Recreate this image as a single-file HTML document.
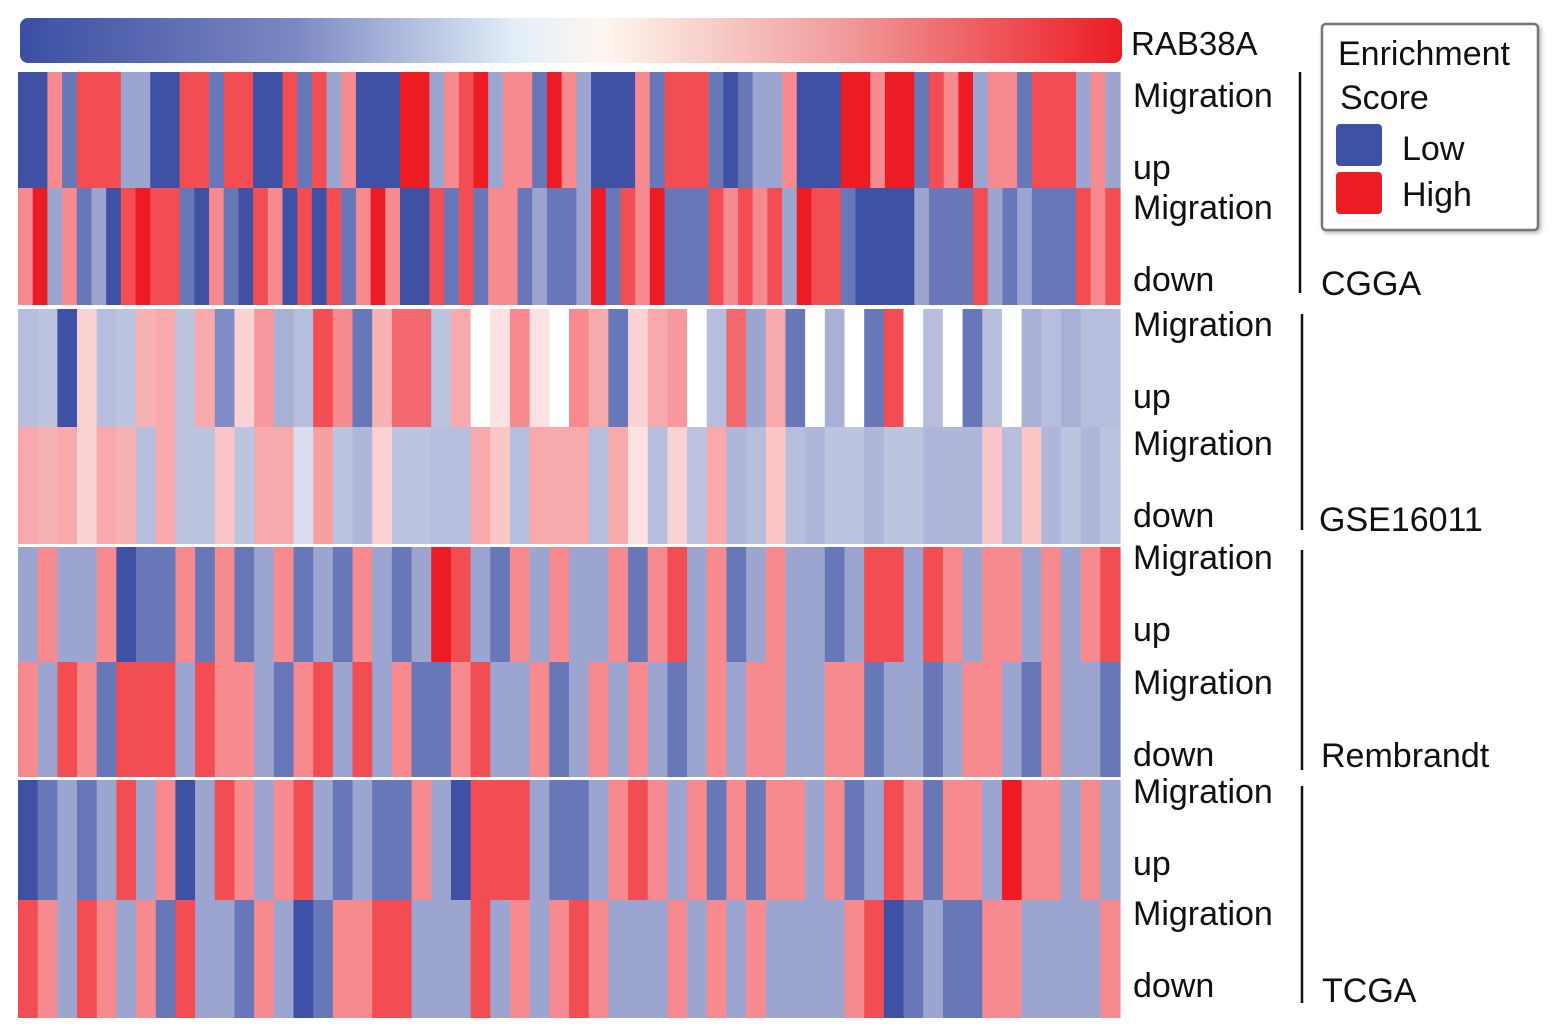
<!DOCTYPE html>
<html><head><meta charset="utf-8">
<style>
body{margin:0;background:#fff;width:1559px;height:1036px;overflow:hidden;font-family:"Liberation Sans",Arial,sans-serif;}
svg{position:absolute;left:0;top:0}
text{font-family:"Liberation Sans",Arial,sans-serif;fill:#111}
</style></head>
<body>
<svg id="chart" width="1559" height="1036">
<defs>
<linearGradient id="rab" x1="0" x2="1" y1="0" y2="0">
<stop offset="0" stop-color="#3a4ea3"/><stop offset="0.25" stop-color="#7c88c2"/>
<stop offset="0.45" stop-color="#e2eef7"/><stop offset="0.53" stop-color="#fdf6ee"/>
<stop offset="0.75" stop-color="#f09a9a"/><stop offset="1" stop-color="#ec1c24"/>
</linearGradient>
<filter id="sh"><feDropShadow dx="2" dy="2" stdDeviation="2" flood-color="#888" flood-opacity="0.6"/></filter>
</defs>
<rect x="20" y="18" width="1102" height="45" rx="8" fill="url(#rab)"/>
<g id="cells"></g>
<text x="1131" y="55" font-size="33">RAB38A</text>
<g id="labels"></g>
<g filter="url(#sh)">
<rect x="1322" y="24" width="216" height="206" rx="4" fill="#fff" stroke="#777" stroke-width="2.5"/>
</g>
<text x="1338" y="65" font-size="34">Enrichment</text>
<text x="1340" y="109" font-size="34">Score</text>
<rect x="1336" y="124" width="46" height="42" rx="4" fill="#3f51a5"/>
<text x="1402" y="160" font-size="34">Low</text>
<rect x="1336" y="172" width="46" height="42" rx="4" fill="#ec1c24"/>
<text x="1402" y="206" font-size="34">High</text>
</svg>
<script>
const datasets = ["CGGA","GSE16011","Rembrandt","TCGA"];
const cggaUp = [-3,-3,1,-2,2,2,2,-1,-1,-3,-3,2,2,-2,2,2,-3,-3,2,-2,2,-1,1,-3,-3,-3,3,3,-1,1,2,3,-1,1,1,-2,3,1,
 -1,-3,-3,-3,1,-2,2,2,2,-2,-3,-2,-1,-1,1,-3,-3,-3,3,3,1,3,3,-2,2,1,3,-1,1,1,-2,2,2,2,-1,1,-1];
const cggaDown = [1,3,-1,1,-2,-1,-3,2,3,2,2,-2,-3,1,-2,-3,2,1,-3,2,-3,2,-2,1,3,1,-3,-3,2,-2,2,-2,1,1,-2,-1,-2,-2,
 -1,3,-2,2,1,3,-2,-2,-2,2,1,2,1,2,-1,3,2,2,-2,-3,-3,-3,-3,-1,-2,-2,-2,2,-1,-2,-1,-2,-2,-2,2,1,2];
const gseUp = [-0.6,-0.5,-3,0.2,-0.6,-0.5,0.5,0.6,-0.5,0.6,-1.5,0.2,0.8,-0.8,-0.6,2,1,-2,0.5,1.5,1.5,-0.5,0.6,0,0.1,1,0.1,0,
 1,0.6,-2,0.2,0.6,0.8,0,-0.6,1.5,-1,0.6,-2,0,-0.8,0,-2,2,0,-0.6,0,-2,-0.6,0,-0.8,-0.6,-0.8,-0.6,-0.6];
const gseDown = [0.6,0.5,0.6,0.2,0.6,0.5,-0.6,0.6,-0.5,-0.5,0.3,-0.5,0.6,0.6,-0.2,0.7,-0.5,-0.7,0.2,-0.5,-0.5,-0.6,-0.6,0.6,0.3,-0.6,0.6,0.6,
 0.6,-0.6,0.6,0.1,-0.6,0.2,-0.5,0.6,-0.7,-0.6,0.3,-0.6,-0.7,-0.5,-0.5,-0.7,-0.5,-0.5,-0.7,-0.7,-0.7,0.3,-0.6,0.3,-0.7,-0.5,-0.7,-0.5];
const remUp = [-1,1,-1,-1,1,-3,-2,-2,1,-2,1,-2,-1,1,-2,-1,-2,1,-1,-2,-1,3,2,-1,-2,1,-1,1,
 -1,-1,1,-2,1,2,-1,1,-2,-1,1,-1,-1,-2,-1,2,2,-1,2,1,-1,1,1,-1,1,-1,1,2];
const remDown = [1,-1,2,1,-2,2,2,2,-1,2,1,1,-1,-2,1,2,-1,2,-1,1,-2,-2,1,2,-1,-1,1,-2,
 -1,1,-1,1,-1,-2,-1,1,-1,1,1,-1,-1,1,1,-2,-1,-1,-2,-1,1,1,-1,-2,1,-1,-1,-2];
const tcgaUp = [-3,-2,-1,-2,-1,2,-1,1,-3,-1,2,1,-1,1,2,-1,-2,-1,-2,-2,1,-1,-3,2,2,2,-1,-2,
 -2,-1,1,2,1,-1,1,-2,1,-2,1,1,-1,1,-2,-1,2,1,-2,1,1,-1,3,1,1,-1,1,-1];
const tcgaDown = [2,1,-1,2,1,-1,1,-2,2,-1,-1,-2,1,-1,-3,-2,1,1,2,2,-1,-1,-1,2,-1,1,-1,1,
 2,1,-1,-1,-1,1,-1,1,-1,1,-1,-1,-1,-1,1,2,-3,-2,-1,-2,-2,1,1,-1,-1,-1,-1,1];
const rowLabels = ["Migration","up","Migration","down"];

const rows = [
 {data:cggaUp, y0:72, y1:188},
 {data:cggaDown, y0:188, y1:305},
 {data:gseUp, y0:309, y1:427},
 {data:gseDown, y0:427, y1:544},
 {data:remUp, y0:547, y1:662},
 {data:remDown, y0:662, y1:777},
 {data:tcgaUp, y0:780, y1:900},
 {data:tcgaDown, y0:900, y1:1018}
];
const X0=18, X1=1120, VMAX=3;
const NS="http://www.w3.org/2000/svg";
function xScale(i,n){return X0+(X1-X0)*i/n;}
function color(v){
  const t=Math.pow(Math.min(1,Math.abs(v)/VMAX),0.6);
  const c=v<0?[63,81,165]:[237,28,36];
  const m=k=>Math.round(255+(c[k]-255)*t);
  return `rgb(${m(0)},${m(1)},${m(2)})`;
}
const g=document.getElementById('cells');
rows.forEach(r=>{
  const n=r.data.length;
  r.data.forEach((v,i)=>{
    const x=xScale(i,n), w=xScale(i+1,n)-x;
    const rc=document.createElementNS(NS,'rect');
    rc.setAttribute('x',x);rc.setAttribute('y',r.y0);
    rc.setAttribute('width',w+0.6);rc.setAttribute('height',r.y1-r.y0);
    rc.setAttribute('fill',color(v));
    
    
    g.appendChild(rc);
  });
});
const L=document.getElementById('labels');
const lab=[
 {ys:[107,179,219,291],line:[1300,72,293],lx:1321,ly:295},
 {ys:[336,408,455,527],line:[1302,314,530],lx:1319,ly:531},
 {ys:[569,641,694,766],line:[1302,550,770],lx:1321,ly:767},
 {ys:[803,875,925,997],line:[1302,786,1003],lx:1322,ly:1002}
];
lab.forEach((d,k)=>{
  d.ys.forEach((y,j)=>{
    const t=document.createElementNS(NS,'text');
    t.setAttribute('x',1133);t.setAttribute('y',y);t.setAttribute('font-size','34');
    t.textContent=rowLabels[j];
    
    
    L.appendChild(t);
  });
  const ln=document.createElementNS(NS,'line');
  ln.setAttribute('x1',d.line[0]);ln.setAttribute('x2',d.line[0]);
  ln.setAttribute('y1',d.line[1]);ln.setAttribute('y2',d.line[2]);
  ln.setAttribute('stroke','#111');ln.setAttribute('stroke-width','2.5');
  
  
  L.appendChild(ln);
  const t=document.createElementNS(NS,'text');
  t.setAttribute('x',d.lx);t.setAttribute('y',d.ly);t.setAttribute('font-size','34');
  t.textContent=datasets[k];
  
  
  L.appendChild(t);
});
</script>
</body></html>
